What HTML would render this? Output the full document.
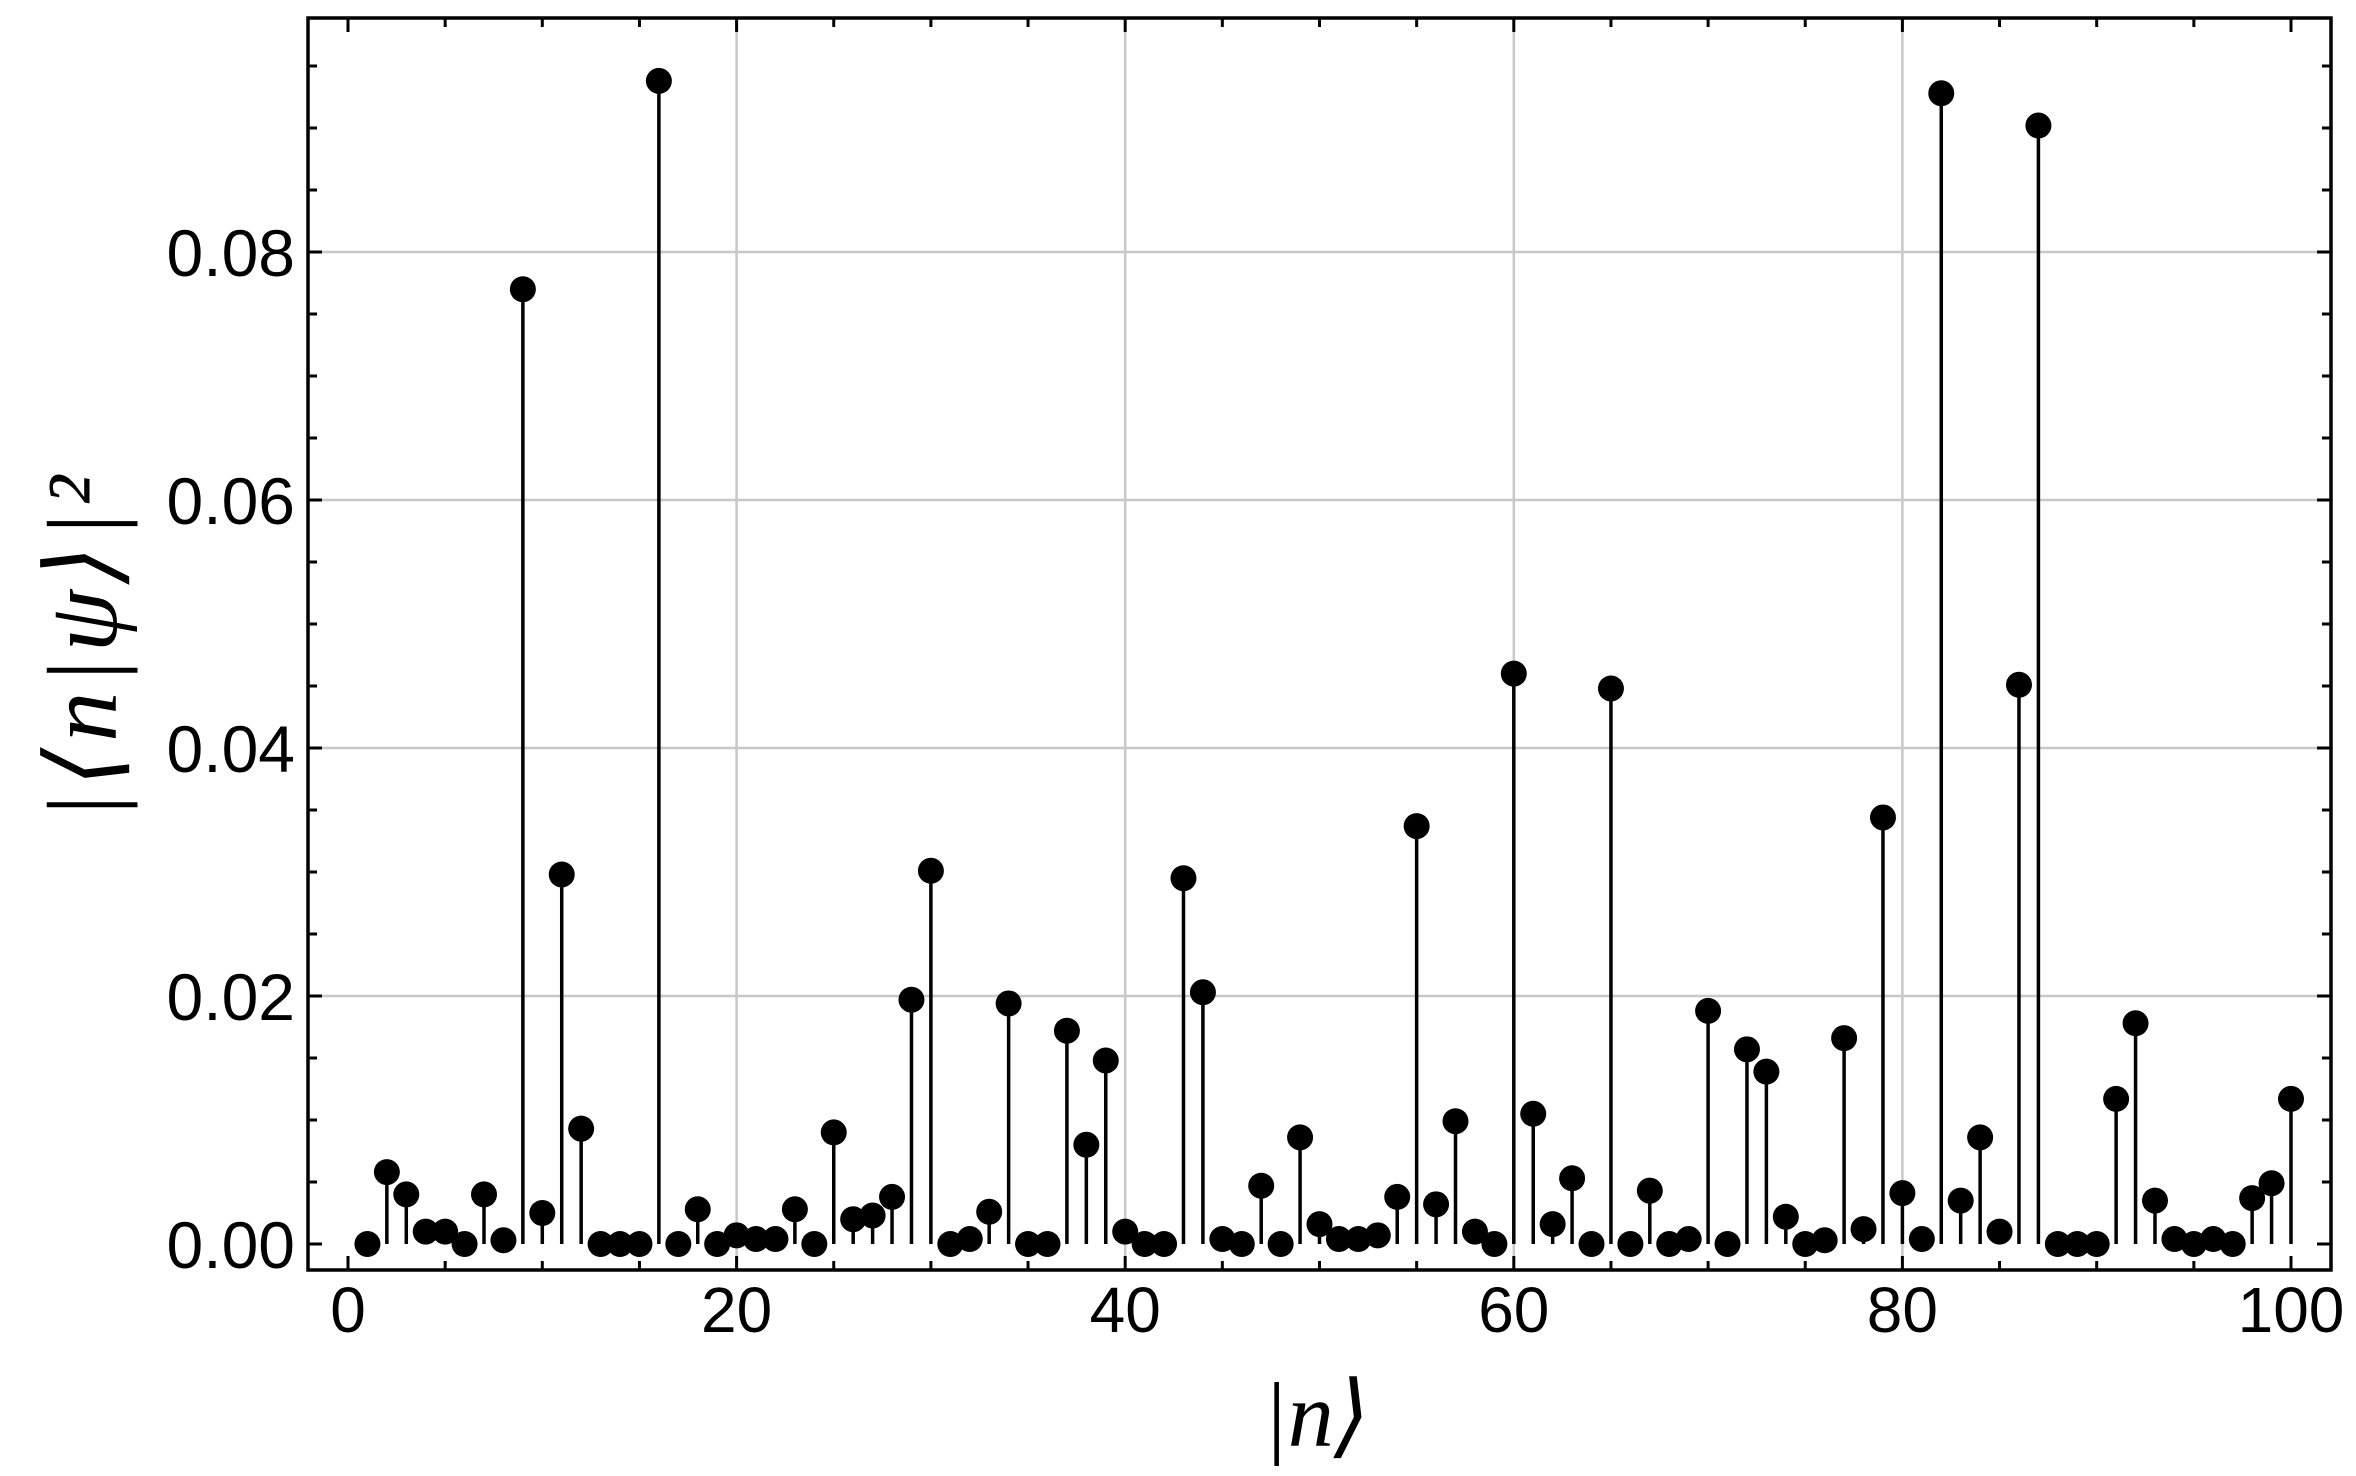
<!DOCTYPE html>
<html><head><meta charset="utf-8"><style>
html,body{margin:0;padding:0;background:#fff;}
svg{display:block;}
text{font-family:"Liberation Sans",sans-serif;fill:#000;}
.ttl{font-family:"Liberation Serif","DejaVu Serif",serif;}
</style></head><body>
<svg id="chart" width="2356" height="1476" viewBox="0 0 2356 1476" xmlns="http://www.w3.org/2000/svg">
<g id="grid"></g>
<g id="stems"></g>
<g id="frame"></g>
<g id="labels"></g>
<text class="ttl" transform="translate(116,645) rotate(-90)" text-anchor="middle" font-size="100" font-style="italic" letter-spacing="6">|⟨n|ψ⟩|²</text>
<text class="ttl" x="1316" y="1446" text-anchor="middle" font-size="92" font-style="italic">|n⟩</text>
</svg>
<script>
const states = [];
for (let i = 1; i <= 100; i++) states.push(i);
const probs = [0,0.0058,0.004,0.001,0.001,0,0.004,0.0003,0.077,0.0025,
0.0298,0.0093,0,0,0,0.0938,0,0.0028,0,0.0007,
0.0004,0.0004,0.0028,0,0.009,0.002,0.0023,0.0038,0.0197,0.0301,
0,0.0004,0.0026,0.0194,0,0,0.0172,0.008,0.0148,0.001,
0,0,0.0295,0.0203,0.0004,0,0.0047,0,0.0086,0.0016,
0.0004,0.0004,0.0007,0.0038,0.0337,0.0032,0.0099,0.001,0,0.046,
0.0105,0.0016,0.0053,0,0.0448,0,0.0043,0,0.0004,0.0188,
0,0.0157,0.0139,0.0022,0,0.0003,0.0166,0.0012,0.0344,0.0041,
0.0004,0.0928,0.0035,0.0086,0.001,0.0451,0.0902,0,0,0,
0.0117,0.0178,0.0035,0.0004,0,0.0004,0,0.0037,0.0049,0.0117];
const xTicks = [0,20,40,60,80,100];
const yTicks = [0,0.02,0.04,0.06,0.08];
const yTickLabels = ["0.00","0.02","0.04","0.06","0.08"];

const NS = "http://www.w3.org/2000/svg";
const L = 308, R = 2331, T = 18, B = 1270;
const sx = v => 348 + v * 19.43;
const sy = v => 1244 - v * 12400;
function mk(tag, attrs, parent) {
  const e = document.createElementNS(NS, tag);
  for (const k in attrs) e.setAttribute(k, attrs[k]);
  parent.appendChild(e);
  return e;
}
const grid = document.getElementById('grid');
const frame = document.getElementById('frame');
const labels = document.getElementById('labels');
const stems = document.getElementById('stems');
xTicks.forEach(v => {
  if (v > 0 && v < 100) {
    const g = mk('line', {x1: sx(v), x2: sx(v), y1: T, y2: B, stroke: '#c8c8c8', 'stroke-width': 2.5}, grid);
    
    
  }
  const t = mk('text', {x: sx(v), y: 1332, 'text-anchor': 'middle', 'font-size': 64}, labels);
  t.textContent = v;
  
  
});
yTicks.forEach((v, i) => {
  if (v > 0) {
    const g = mk('line', {x1: L, x2: R, y1: sy(v), y2: sy(v), stroke: '#c8c8c8', 'stroke-width': 2.5}, grid);
    
    
  }
  const t = mk('text', {x: 295, y: sy(v) + 24, 'text-anchor': 'end', 'font-size': 66}, labels);
  t.textContent = yTickLabels[i];
  
  
});
states.forEach((n, i) => {
  const p = probs[i];
  const s = mk('line', {x1: sx(n), x2: sx(n), y1: sy(0), y2: sy(p), stroke: '#000', 'stroke-width': 3.5}, stems);
  
  
  const c = mk('circle', {cx: sx(n), cy: sy(p), r: 13, fill: '#000'}, stems);
  
  
});
for (let v = 0; v <= 100; v += 5) {
  const len = v % 20 === 0 ? 14 : 9;
  mk('line', {x1: sx(v), x2: sx(v), y1: B, y2: B - len, stroke: '#000', 'stroke-width': 3}, frame);
  mk('line', {x1: sx(v), x2: sx(v), y1: T, y2: T + len, stroke: '#000', 'stroke-width': 3}, frame);
}
for (let k = 0; k <= 19; k++) {
  const v = k * 0.005;
  const len = k % 4 === 0 ? 14 : 9;
  mk('line', {x1: L, x2: L + len, y1: sy(v), y2: sy(v), stroke: '#000', 'stroke-width': 3}, frame);
  mk('line', {x1: R, x2: R - len, y1: sy(v), y2: sy(v), stroke: '#000', 'stroke-width': 3}, frame);
}
mk('rect', {x: L, y: T, width: R - L, height: B - T, fill: 'none', stroke: '#000', 'stroke-width': 3.5}, frame);
</script>
</body></html>
